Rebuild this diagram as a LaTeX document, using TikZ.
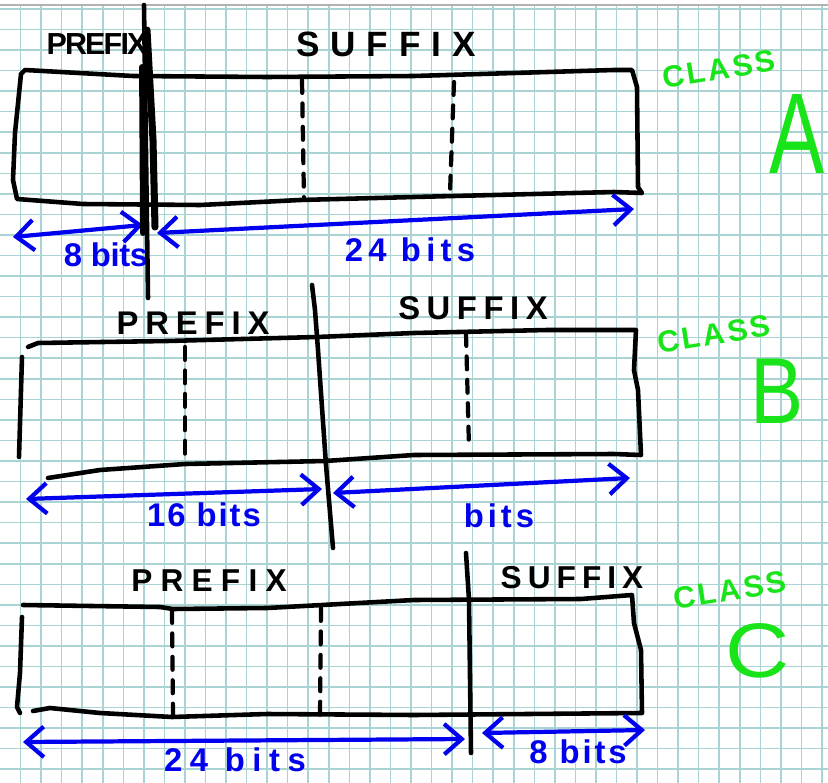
\documentclass[tikz,border=0pt]{standalone}
\usepackage{fontspec}
\setmainfont{Liberation Sans}
\newfontfamily\penfont{Liberation Sans}
\usetikzlibrary{arrows.meta}
\definecolor{gridcyan}{RGB}{170,212,212}
\definecolor{penblue}{RGB}{0,0,238}
\definecolor{pengreen}{RGB}{25,228,25}

\begin{document}
\begin{tikzpicture}[x=0.03cm, y=-0.03cm,
        gridline/.style={gridcyan, line width=1.3pt},
        boxline/.style={line width=3.9pt, line join=round, line cap=round},
        divider/.style={line width=3.6pt, line cap=round, dash pattern=on 11pt off 9pt},
        cut/.style={line width=3.9pt, line cap=round},
        span/.style={<->, >={Straight Barb[length=15pt,width=26pt]}, penblue, line width=3.6pt, line cap=round, line join=round},
        field/.style 2 args={inner sep=0pt, font=\penfont\bfseries\fontsize{#1}{#1}\selectfont\addfontfeatures{LetterSpace=#2}},
        bitlabel/.style={inner sep=0pt, penblue, font=\penfont\bfseries\fontsize{28}{28}\selectfont\addfontfeatures{LetterSpace=#1}},
        classname/.style={inner sep=0pt, pengreen, rotate=9, font=\penfont\bfseries\fontsize{26}{26}\selectfont\addfontfeatures{LetterSpace=9}},
        classletter/.style={inner sep=0pt, pengreen, font=\penfont\fontsize{#1}{#1}\selectfont}
    ]
        \useasboundingbox (0,0) rectangle (828,783);
        \fill[white] (0,0) rectangle (828,783);

        % Squared paper
        \foreach \k in {1,...,40}
            \draw[gridline] ({20.55*\k},6) -- ({20.55*\k},783);
        \foreach \k in {0,...,37}
            \draw[gridline] (0,{8.9+20.55*\k}) -- (828,{8.9+20.55*\k});
        \draw[gray!60, line width=1.3pt] (0,5) -- (828,5);

        % Class A
        \draw[boxline] (25,70) -- (133,76) -- (267,77) -- (414,76) -- (614,70) -- (632,70) -- (637,87) -- (638,187) -- (642,193) -- (614,192) -- (414,197) -- (300,200) -- (200,205) -- (83,204) -- (17,199) -- (13,180) -- (15,133) -- (21,74) -- cycle;
        \draw[divider] (302,80) -- (304,200);
        \draw[divider] (454,82) -- (450,193);

        % Class B
        \draw[boxline] (28,347) -- (38,343) -- (167,341) -- (317,337) -- (414,333) -- (547,330) -- (636,330) -- (634,370) -- (638,390) -- (641,455) -- (614,454) -- (414,455) -- (325,461) -- (185,464) -- (100,470) -- (48,478);
        \draw[boxline] (22,357) -- (19,457);
        \draw[divider] (185,347) -- (185,463);
        \draw[divider] (466,333) -- (469,448);

        % Class C
        \draw[boxline] (23,605) -- (160,607) -- (173,609) -- (267,608) -- (414,600) -- (581,599) -- (632,595) -- (634,623) -- (641,650) -- (642,713) -- (414,715) -- (267,714) -- (172,717) -- (100,713) -- (50,708) -- (33,711);
        \draw[boxline] (22,617) -- (20,673) -- (17,707) -- (20,713);
        \draw[divider] (172,610) -- (173,717);
        \draw[divider] (321,608) -- (320,717);

        % Field names
        \node[field={26}{-6}] (prefixA) at (97,44) {PREFIX};
        \node[field={30}{31}] (suffixA) at (386,44) {SUFFIX};
        \node[field={28}{21}] (prefixB) at (193,323) {PREFIX};
        \node[field={28}{20}] (suffixB) at (473,308) {SUFFIX};
        \node[field={27}{26}] (prefixC) at (209,581) {PREFIX};
        \node[field={27}{19}] (suffixC) at (572,578) {SUFFIX};

        % Bit counts
        \coordinate (A-l) at (13,237);
        \coordinate (A-m1) at (143,225);
        \coordinate (A-m2) at (157,233);
        \coordinate (A-r) at (634,209);
        \coordinate (B-l) at (26,499);
        \coordinate (B-m1) at (322,489);
        \coordinate (B-m2) at (333,493);
        \coordinate (B-r) at (630,478);
        \coordinate (C-l) at (23,742);
        \coordinate (C-m1) at (465,739);
        \coordinate (C-m2) at (482,733);
        \coordinate (C-r) at (645,730);
        \draw[span] (A-l) -- (A-m1);
        \draw[span] (A-m2) -- (A-r);
        \draw[span] (B-l) -- (B-m1);
        \draw[span] (B-m2) -- (B-r);
        \draw[span] (C-l) -- (C-m1);
        \draw[span] (C-m2) -- (C-r);
        \node[bitlabel=-1] (bitsA1) at (106,255) {8 bits};
        \node[bitlabel=16] (bitsA2) at (410,250) {24 bits};
        \node[bitlabel=6] (bitsB1) at (204,515) {16 bits};
        \node[bitlabel=12] (bitsB2) at (499,516) {bits};
        \node[bitlabel=23] (bitsC1) at (235,760) {24 bits};
        \node[bitlabel=9] (bitsC2) at (578,752) {8 bits};

        % Network / host cuts
        \draw[cut] (144,5) -- (148,298);
        \draw[cut, line width=6pt] (147,30) -- (153,140) -- (155,227);
        \draw[cut, line width=5pt] (142,67) -- (143,233);
        \draw[cut] (312,285) -- (315,310) -- (318,350) -- (326,465) -- (333,548);
        \draw[cut] (466,553) -- (469,600) -- (471,753);

        % Class names
        \node[classname] (classA) at (719,69) {CLASS};
        \node[classletter=98, xscale=0.72] (letterA) at (797,134) {A};
        \node[classname] (classB) at (714,334) {CLASS};
        \node[classletter=80, xscale=0.85] (letterB) at (777,391) {B};
        \node[classname] (classC) at (730,590) {CLASS};
        \node[classletter=66, xscale=1.15] (letterC) at (758,651) {C};
    \end{tikzpicture}
\end{document}
